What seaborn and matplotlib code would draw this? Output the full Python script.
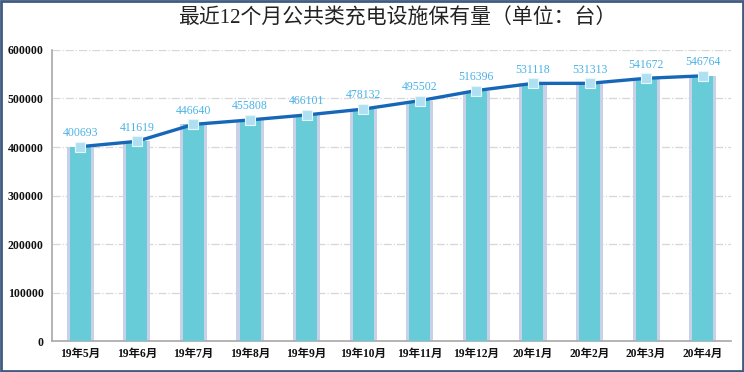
import pandas as pd
import matplotlib
matplotlib.use("Agg")
import matplotlib.pyplot as plt
import seaborn as sns
from matplotlib.patches import Rectangle

months = ["19年5月", "19年6月", "19年7月", "19年8月", "19年9月", "19年10月",
          "19年11月", "19年12月", "20年1月", "20年2月", "20年3月", "20年4月"]
counts = [400693, 411619, 446640, 455808, 466101, 478132,
          495502, 516396, 531118, 531313, 541672, 546764]
yticks = [0, 100000, 200000, 300000, 400000, 500000, 600000]

TITLE = "最近12个月公共类充电设施保有量（单位：台）"
SERIF = ["Liberation Serif", "Noto Sans CJK SC"]


def make_frame():
    return pd.DataFrame({"month": months, "count": counts})


def plot_chart(data):
    sns.set_theme(style="white")
    plt.rcParams["font.family"] = SERIF

    fig = plt.figure(figsize=(7.44, 3.72), dpi=100)
    ax = fig.add_axes([0.0699, 0.0833, 0.9126, 0.7823])

    # soft halo behind each bar, then the bar itself
    sns.barplot(data=data, x="month", y="count", color="#c9d1e9",
                saturation=1, width=0.48, ax=ax, zorder=2, linewidth=0)
    sns.barplot(data=data, x="month", y="count", color="#68ccd8",
                saturation=1, width=0.37, ax=ax, zorder=3, linewidth=0)

    sns.pointplot(data=data, x="month", y="count", color="#1767b8",
                  markers="s", markersize=7, linewidth=2.4,
                  markerfacecolor="#aee0f2", markeredgecolor="#e6f6fc",
                  markeredgewidth=0.8, ax=ax, zorder=5)

    for i, v in enumerate(data["count"]):
        ax.annotate(str(v), (i, v), xytext=(0, 5.5), textcoords="offset points",
                    ha="center", va="bottom", fontsize=8.5, color="#4ab2e6",
                    family=SERIF, zorder=6)

    ax.set_xlim(-0.5, len(months) - 0.5)
    ax.set_ylim(0, 600000)
    ax.set_yticks(yticks)
    ax.set_yticklabels([str(t) for t in yticks], fontsize=8.5, fontweight="bold")
    ax.set_xticks(range(len(months)))
    ax.set_xticklabels(months, fontsize=8.3, fontweight="bold")
    ax.tick_params(axis="both", length=0, colors="#111111")
    ax.tick_params(axis="y", pad=6)
    ax.tick_params(axis="x", pad=5)
    ax.set_xlabel("")
    ax.set_ylabel("")

    for t in yticks[1:]:
        ax.axhline(t, color="#d6d6d6", linestyle="-.", linewidth=0.9, zorder=1)

    sns.despine(ax=ax, top=True, right=True)
    ax.spines["left"].set_color("#a8a8a8")
    ax.spines["bottom"].set_color("#a8a8a8")
    ax.spines["left"].set_linewidth(1.2)
    ax.spines["bottom"].set_linewidth(1.2)

    fig.text(0.534, 0.952, TITLE, ha="center", va="center", fontsize=15,
             color="#222222", family=SERIF)

    fig.patches.append(Rectangle((0.002, 0.003), 0.996, 0.994,
                                 transform=fig.transFigure, fill=False,
                                 edgecolor="#3f5b7f", linewidth=2))

    fig.savefig("out.png", dpi=100)


if __name__ == "__main__":
    plot_chart(make_frame())
